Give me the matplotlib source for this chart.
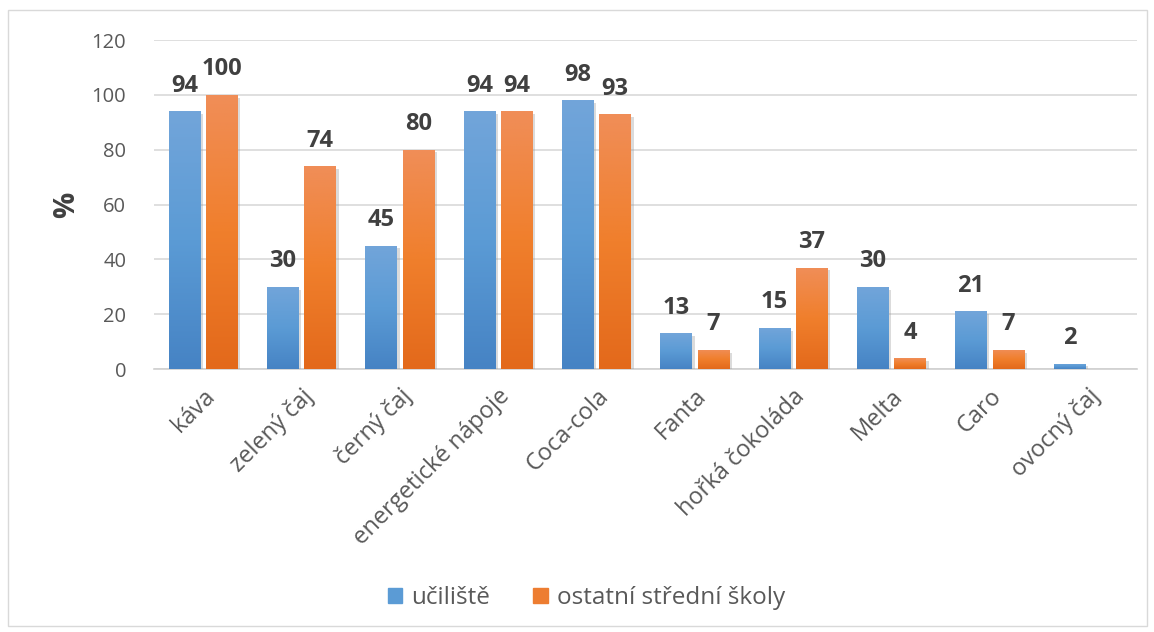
import numpy as np
import matplotlib
matplotlib.use("Agg")
import matplotlib.pyplot as plt
from matplotlib.colors import LinearSegmentedColormap
from matplotlib.patches import Rectangle
import matplotlib.patheffects as pe

plt.rcParams['font.family'] = ['Open Sans', 'DejaVu Sans']

# data
napoje = ['káva', 'zelený čaj', 'černý čaj', 'energetické nápoje', 'Coca-cola',
          'Fanta', 'hořká čokoláda', 'Melta', 'Caro', 'ovocný čaj']
uciliste = [94, 30, 45, 94, 98, 13, 15, 30, 21, 2]
ostatni = [100, 74, 80, 94, 93, 7, 37, 4, 7, None]
serie_nazvy = ['učiliště', 'ostatní střední školy']
y_ticks = [0, 20, 40, 60, 80, 100, 120]

blue_cm = LinearSegmentedColormap.from_list('b', ['#4683c4', '#5b9bd5', '#72a5da'])
orange_cm = LinearSegmentedColormap.from_list('o', ['#e3691b', '#f07f2c', '#f08e58'])

fig = plt.figure(figsize=(11.54, 6.32), dpi=100)
ax = fig.add_axes([0.1334, 0.4161, 0.852, 0.5206])

# outer frame
fig.patches.append(Rectangle((8/1154, 1 - 626/632), 1139/1154, 616/632,
                             transform=fig.transFigure, fill=False,
                             edgecolor='#d9d9d9', lw=1))

x = np.arange(len(napoje))
w = 0.32
off = 0.19
grad = np.linspace(0, 1, 256).reshape(-1, 1)

def draw_bars(xs, vals, cmap, base):
    for xi, v in zip(xs, vals):
        if v is None:
            continue
        bar = ax.bar(xi, v, w, color=base, zorder=3,
                     path_effects=[pe.SimplePatchShadow(offset=(2, -2), shadow_rgbFace='#9a9a9a', alpha=0.35),
                                   pe.Normal()])[0]
        im = ax.imshow(grad, cmap=cmap, extent=(xi - w/2, xi + w/2, 0, v),
                       origin='lower', aspect='auto', zorder=4)
        im.set_clip_path(bar)
        ax.annotate(str(v), (xi, v), xytext=(0, 14), textcoords='offset points',
                    ha='center', va='baseline', fontsize=17, fontweight='bold',
                    color='#404040', zorder=5)

draw_bars(x - off, uciliste, blue_cm, '#5b9bd5')
draw_bars(x + off, ostatni, orange_cm, '#ed7d31')

ax.set_xlim(-0.5, len(napoje) - 0.5)
ax.set_ylim(0, 120)
ax.set_yticks(y_ticks)
ax.yaxis.grid(True, color='#d9d9d9', lw=1.2, zorder=0)
ax.set_axisbelow(True)
for s in ['top', 'right', 'left']:
    ax.spines[s].set_visible(False)
ax.spines['bottom'].set_color('#d0d0d0')
ax.spines['bottom'].set_linewidth(1.2)
ax.tick_params(axis='y', length=0, labelsize=14.5, colors='#595959', pad=20)
ax.tick_params(axis='x', length=0, labelsize=17, colors='#595959', pad=11)
ax.set_xticks(x)
ax.set_xticklabels(napoje, rotation=45, ha='right', va='top',
                   rotation_mode='anchor')
ax.set_ylabel('%', fontsize=21, fontweight='bold', color='#404040')
ax.yaxis.set_label_coords(-0.074, 0.5)

handles = [Rectangle((0, 0), 1, 1, color='#5b9bd5'), Rectangle((0, 0), 1, 1, color='#ed7d31')]
fig.legend(handles, serie_nazvy, loc='center', bbox_to_anchor=(0.508, 1 - 598/632),
           ncol=2, frameon=False, fontsize=17.5, handlelength=0.6, handleheight=0.6,
           handletextpad=0.35, columnspacing=1.8, labelcolor='#595959')

fig.savefig('out.png', dpi=100)
